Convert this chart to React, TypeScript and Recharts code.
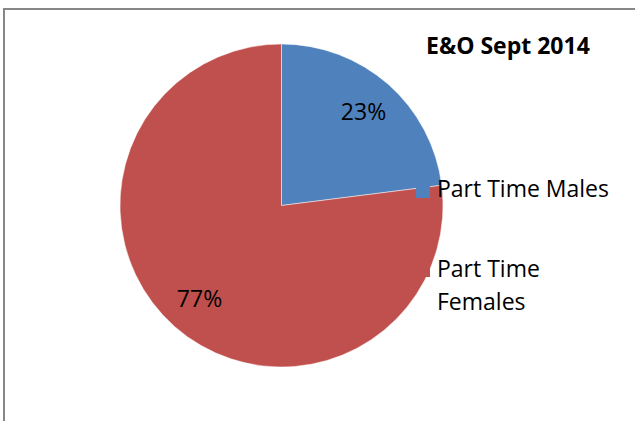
import { PieChart, Pie, Cell, Legend } from "recharts";

const categories = ["Part Time Males", "Part Time Females"];
const values = [23, 77];
const colors = ["#4F81BD", "#C0504D"];
const title = "E&O Sept 2014";

const data = categories.map((name, i) => ({ name, value: values[i] }));

const FONT = "'Open Sans', sans-serif";
const RADIAN = Math.PI / 180;

const renderLabel = (props: any) => {
  const { cx, cy, midAngle, percent } = props;
  const r = 124;
  const x = cx + r * Math.cos(-midAngle * RADIAN);
  const y = cy + r * Math.sin(-midAngle * RADIAN);
  return (
    <text
      x={x}
      y={y + 8}
      textAnchor="middle"
      fill="#000"
      fontFamily={FONT}
      fontSize={23}
    >
      {`${Math.round(percent * 100)}%`}
    </text>
  );
};

// legend rows: square top, first baseline, wrapped lines
const legendRows = [
  { squareY: 184, baseline: 197, lines: ["Part Time Males"] },
  { squareY: 263, baseline: 277, lines: ["Part Time", "Females"] },
];

const renderLegend = () => (
  <svg
    width={635}
    height={421}
    style={{ position: "absolute", left: 0, top: 0, overflow: "visible" }}
  >
    {legendRows.map((row, i) => (
      <g key={categories[i]}>
        <rect x={416} y={row.squareY} width={14} height={14} fill={colors[i]} />
        <text x={437} y={row.baseline} fontFamily={FONT} fontSize={23} fill="#000">
          {row.lines.map((line, j) => (
            <tspan key={line} x={437} dy={j === 0 ? 0 : 33}>
              {line}
            </tspan>
          ))}
        </text>
      </g>
    ))}
  </svg>
);

export default function App() {
  return (
    <div
      style={{
        position: "absolute",
        left: 0,
        top: 0,
        width: 635,
        height: 421,
        overflow: "hidden",
        background: "#fff",
      }}
    >
      <div
        style={{
          position: "absolute",
          left: 3,
          top: 8,
          width: 700,
          height: 500,
          borderTop: "2px solid #878787",
          borderLeft: "2px solid #878787",
        }}
      />
      <div style={{ position: "absolute", left: 0, top: 0 }}>
        <PieChart width={635} height={421} margin={{ top: 0, right: 0, bottom: 0, left: 0 }}>
          <Pie
            data={data}
            dataKey="value"
            nameKey="name"
            cx={281.5}
            cy={205.5}
            outerRadius={161.5}
            startAngle={90}
            endAngle={-270}
            stroke="#fff"
            strokeWidth={0.5}
            label={renderLabel}
            labelLine={false}
            isAnimationActive={false}
          >
            {data.map((entry, index) => (
              <Cell key={`cell-${index}`} fill={colors[index]} />
            ))}
          </Pie>
          <Legend
            content={renderLegend}
            wrapperStyle={{ left: 0, top: 0, width: 0, height: 0, overflow: "visible" }}
          />
        </PieChart>
      </div>
      <div
        style={{
          position: "absolute",
          left: 426,
          top: 33.6,
          fontFamily: FONT,
          fontWeight: 700,
          fontSize: 23,
          lineHeight: "23px",
          whiteSpace: "nowrap",
          color: "#000",
        }}
      >
        {title}
      </div>
    </div>
  );
}
